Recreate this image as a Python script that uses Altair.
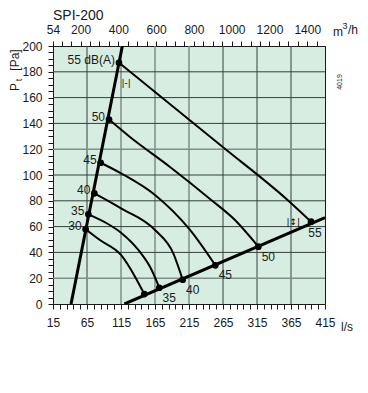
import altair as alt
import pandas as pd

# ---------------- data ----------------
flow_major = [15, 65, 115, 165, 215, 265, 315, 365, 415]
flow_minor = list(range(15, 416, 10))
pa_major = [0, 20, 40, 60, 80, 100, 120, 140, 160, 180, 200]
pa_minor = list(range(0, 201, 5))
m3h_labels = [54, 200, 400, 600, 800, 1000, 1200, 1400]
m3h_ticks = [54] + list(range(100, 1451, 50))

db_levels = [30, 35, 40, 45, 50, 55]

# operating points at the left line
left_ls = [63.0, 67.0, 75.8, 85.1, 97.4, 112.0]
left_pa = [58.0, 69.5, 85.8, 109.5, 143.0, 187.0]
left_text = ["30", "35", "40", "45", "50", "55 dB(A)"]

# operating points at the right line
right_ls = [149.3, 171.3, 205.7, 253.7, 317.0, 394.4]
right_pa = [7.7, 12.6, 18.8, 30.0, 44.4, 63.8]
right_text = ["", "35", "40", "45", "50", "55"]

# boundary lines
line_left_ls = [41.5, 117.0]
line_left_pa = [0.0, 200.0]
line_right_ls = [120.0, 415.0]
line_right_pa = [0.0, 67.0]

# sound level curves
c30_ls = [63.0, 84.0, 115.0, 135.6, 149.3]
c30_pa = [58.0, 49.6, 38.0, 21.2, 7.7]
c35_ls = [67.0, 94.0, 115.0, 140.5, 160.1, 171.3]
c35_pa = [69.5, 62.6, 55.3, 41.9, 26.4, 12.6]
c40_ls = [75.8, 115.0, 165.0, 191.9, 205.7]
c40_pa = [85.8, 74.2, 57.4, 39.3, 18.8]
c45_ls = [85.1, 115.0, 165.0, 216.5, 253.7]
c45_pa = [109.5, 101.3, 84.5, 57.4, 30.0]
c50_ls = [97.4, 128.2, 187.1, 245.9, 282.6, 317.0]
c50_pa = [143.0, 129.5, 106.2, 81.4, 65.1, 44.4]
c55_ls = [112.0, 264.2, 358.7, 394.4]
c55_pa = [187.0, 121.9, 81.2, 63.8]

grid_dark_ls = [65, 265, 315, 365]
grid_grey_ls = [115, 165, 215]
grid_dark_pa = [40, 60, 80, 100, 140, 160, 180]
grid_grey_pa = [20, 120]

marker_ls = [122.6, 368.4]
marker_pa = [171.0, 63.8]
marker_text = ["|-|", "|\u2195|"]

# ---------------- build ----------------
W, H = 272, 258
FONT = "Liberation Sans"
INK = "#1a1a1a"
GRID = "#33403a"
GRIDG = "#7d8f86"

xs = alt.Scale(domain=[15, 415], nice=False, zero=False)
ys = alt.Scale(domain=[0, 200], nice=False, zero=False)

curves = []
for db, lx, ly in zip(db_levels, [c30_ls, c35_ls, c40_ls, c45_ls, c50_ls, c55_ls],
                      [c30_pa, c35_pa, c40_pa, c45_pa, c50_pa, c55_pa]):
    for i, (a, b) in enumerate(zip(lx, ly)):
        curves.append({"db": db, "ls": a, "pa": b, "o": i})
curves = pd.DataFrame(curves)

bounds = pd.DataFrame(
    [{"k": "L", "ls": a, "pa": b, "o": i} for i, (a, b) in enumerate(zip(line_left_ls, line_left_pa))]
    + [{"k": "R", "ls": a, "pa": b, "o": i} for i, (a, b) in enumerate(zip(line_right_ls, line_right_pa))]
)
left_df = pd.DataFrame({"ls": left_ls, "pa": left_pa, "t": left_text})
right_df = pd.DataFrame({"ls": right_ls, "pa": right_pa, "t": right_text})

common = dict(tickSize=5, tickColor=INK, domainColor=INK, labelColor=INK, tickWidth=1,
              labelFont=FONT, labelFontSize=12, labelFlush=False,
              labelOverlap=False, grid=False, title=None)

x_axis = alt.Axis(orient="bottom", values=flow_minor, format="d",
                  labelExpr="(datum.value - 15) % 50 == 0 ? datum.label : ''",
                  labelPadding=8, **common)
y_axis = alt.Axis(orient="left", values=pa_minor, format="d",
                  labelExpr="datum.value % 20 == 0 ? datum.label : ''",
                  labelPadding=6, **common)
top_vals = [v / 3.6 for v in m3h_ticks]
lab_list = ",".join(str(v) for v in m3h_labels)
top_axis = alt.Axis(orient="top", values=top_vals,
                    labelExpr="indexof([" + lab_list + "], round(datum.value*3.6)) >= 0 ? format(round(datum.value*3.6), 'd') : ''",
                    labelPadding=5, **common)

NOAX = dict(axis=None)


def X(**kw):
    return alt.X("ls:Q", scale=xs, **kw)


def Y(**kw):
    return alt.Y("pa:Q", scale=ys, **kw)


vgrid_dark = alt.Chart(pd.DataFrame({"ls": grid_dark_ls})).mark_rule(color=GRID, strokeWidth=1).encode(
    x=X(axis=x_axis))
vgrid_grey = alt.Chart(pd.DataFrame({"ls": grid_grey_ls})).mark_rule(color=GRIDG, strokeWidth=1.5).encode(
    x=X(axis=top_axis))
hgrid_dark = alt.Chart(pd.DataFrame({"pa": grid_dark_pa})).mark_rule(color=GRID, strokeWidth=1).encode(
    y=Y(axis=y_axis))
hgrid_grey = alt.Chart(pd.DataFrame({"pa": grid_grey_pa})).mark_rule(color=GRIDG, strokeWidth=1.5).encode(
    y=Y(**NOAX))

curve_lines = alt.Chart(curves).mark_line(color="#000", strokeWidth=2, interpolate="monotone", clip=True).encode(
    x=X(**NOAX), y=Y(**NOAX), detail="db:N", order="o:Q")
bound_lines = alt.Chart(bounds).mark_line(color="#000", strokeWidth=3, clip=True).encode(
    x=X(**NOAX), y=Y(**NOAX), detail="k:N", order="o:Q")

pts = pd.concat([left_df, right_df])
dots = alt.Chart(pts).mark_circle(color="#000", size=45, opacity=1).encode(x=X(**NOAX), y=Y(**NOAX))

left_lbl = alt.Chart(left_df).mark_text(align="right", baseline="middle", dx=-4, dy=-3,
                                         font=FONT, fontSize=12, color=INK).encode(
    x=X(**NOAX), y=Y(**NOAX), text="t:N")
right_lbl = alt.Chart(right_df[right_df["t"] != "55"]).mark_text(
    align="center", baseline="middle", dx=10, dy=10, font=FONT, fontSize=12, color=INK).encode(
    x=X(**NOAX), y=Y(**NOAX), text="t:N")
right_lbl55 = alt.Chart(right_df[right_df["t"] == "55"]).mark_text(
    align="center", baseline="middle", dx=4, dy=11, font=FONT, fontSize=12, color=INK).encode(
    x=X(**NOAX), y=Y(**NOAX), text="t:N")
markers = alt.Chart(pd.DataFrame({"ls": marker_ls, "pa": marker_pa, "t": marker_text})).mark_text(
    font="DejaVu Sans", fontSize=9, color="#000", baseline="middle").encode(
    x=X(**NOAX), y=Y(**NOAX), text="t:N")


def txt(s, x, y, size=12, **kw):
    return alt.Chart(pd.DataFrame({"t": [s]})).mark_text(font=FONT, fontSize=size, color=INK, **kw).encode(
        x=alt.value(x), y=alt.value(y), text="t:N")


# plot origin is at page (53, 46); svg origin at page (8, 8)
annots = [
    txt("SPI-200", 0, -37, 14, align="left", baseline="top"),
    txt("l/s", 294, 281, 12, align="center", baseline="middle"),
    txt("m", 285, -14, 12, align="center", baseline="middle"),
    txt("3", 292, -20, 9, align="center", baseline="middle"),
    txt("/h", 295, -16, 12, align="left", baseline="middle"),
    txt("4019", 287, 36, 7, align="center", baseline="middle", angle=270),
    txt("P", -38, 41, 12, align="center", baseline="middle", angle=270),
    txt("t", -34, 34, 9, align="center", baseline="middle", angle=270),
    txt("[Pa]", -38, 14, 12, align="center", baseline="middle", angle=270),
]

chart = alt.layer(vgrid_grey, vgrid_dark, hgrid_grey, hgrid_dark, curve_lines, bound_lines, dots,
                  left_lbl, right_lbl, right_lbl55, markers, *annots).resolve_axis(
    x="independent", y="independent").properties(
    width=W, height=H,
    background="white",
    autosize=alt.AutoSizeParams(type="none"),
    padding={"left": 45, "top": 38, "right": 35, "bottom": 81},
).configure_view(fill="#d7ede2", stroke=INK, strokeWidth=1)

chart.save("out.html", embed_options={"renderer": "svg", "actions": False})
